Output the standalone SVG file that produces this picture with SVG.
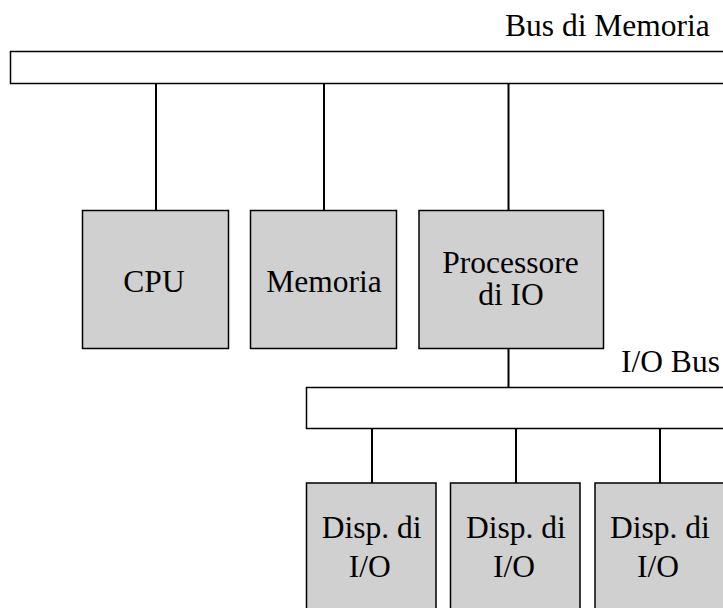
<svg xmlns="http://www.w3.org/2000/svg" width="723" height="608" viewBox="0 0 723 608">
<style>
.bus{fill:#ffffff;stroke:#000;stroke-width:1.5}
.box{fill:#d0d0d0;stroke:#000;stroke-width:1.5}
.ln{stroke:#000;stroke-width:2;fill:none}
.c{text-anchor:middle}
text{font-family:"Liberation Serif","Times New Roman",Times,serif;font-size:31.5px;fill:#000}
</style>
<rect width="723" height="608" fill="#fff"/>
<g id="bus-memoria">
<rect class="bus" x="10.5" y="51.5" width="730" height="32"/>
<text x="505" y="36">Bus di Memoria</text>
</g>
<g id="connectors">
<line class="ln" x1="156" y1="83.5" x2="156" y2="210.5"/>
<line class="ln" x1="324" y1="83.5" x2="324" y2="210.5"/>
<line class="ln" x1="508.5" y1="83.5" x2="508.5" y2="210.5"/>
<line class="ln" x1="508.5" y1="348.5" x2="508.5" y2="387.5"/>
<line class="ln" x1="372" y1="428.5" x2="372" y2="483"/>
<line class="ln" x1="516" y1="428.5" x2="516" y2="483"/>
<line class="ln" x1="660" y1="428.5" x2="660" y2="483"/>
</g>
<g id="cpu">
<rect class="box" x="82.5" y="210.5" width="146" height="138"/>
<text class="c" x="154" y="291.5">CPU</text>
</g>
<g id="memoria">
<rect class="box" x="250.5" y="210.5" width="146" height="138"/>
<text class="c" x="324" y="291.5">Memoria</text>
</g>
<g id="processore">
<rect class="box" x="419" y="210.5" width="184.5" height="138"/>
<text class="c" x="510.5" y="273.3">Processore</text>
<text class="c" x="511" y="305">di IO</text>
</g>
<g id="io-bus">
<rect class="bus" x="306.5" y="387.5" width="430" height="41"/>
<text x="621" y="372.3">I/O Bus</text>
</g>
<g id="disp1">
<rect class="box" x="306.5" y="483" width="129.5" height="140"/>
<text class="c" x="371.7" y="538">Disp. di</text>
<text class="c" x="369.7" y="576.7">I/O</text>
</g>
<g id="disp2">
<rect class="box" x="450.5" y="483" width="129.5" height="140"/>
<text class="c" x="516" y="538">Disp. di</text>
<text class="c" x="514" y="576.7">I/O</text>
</g>
<g id="disp3">
<rect class="box" x="595" y="483" width="140" height="140"/>
<text class="c" x="660" y="538">Disp. di</text>
<text class="c" x="658" y="576.7">I/O</text>
</g>
</svg>
